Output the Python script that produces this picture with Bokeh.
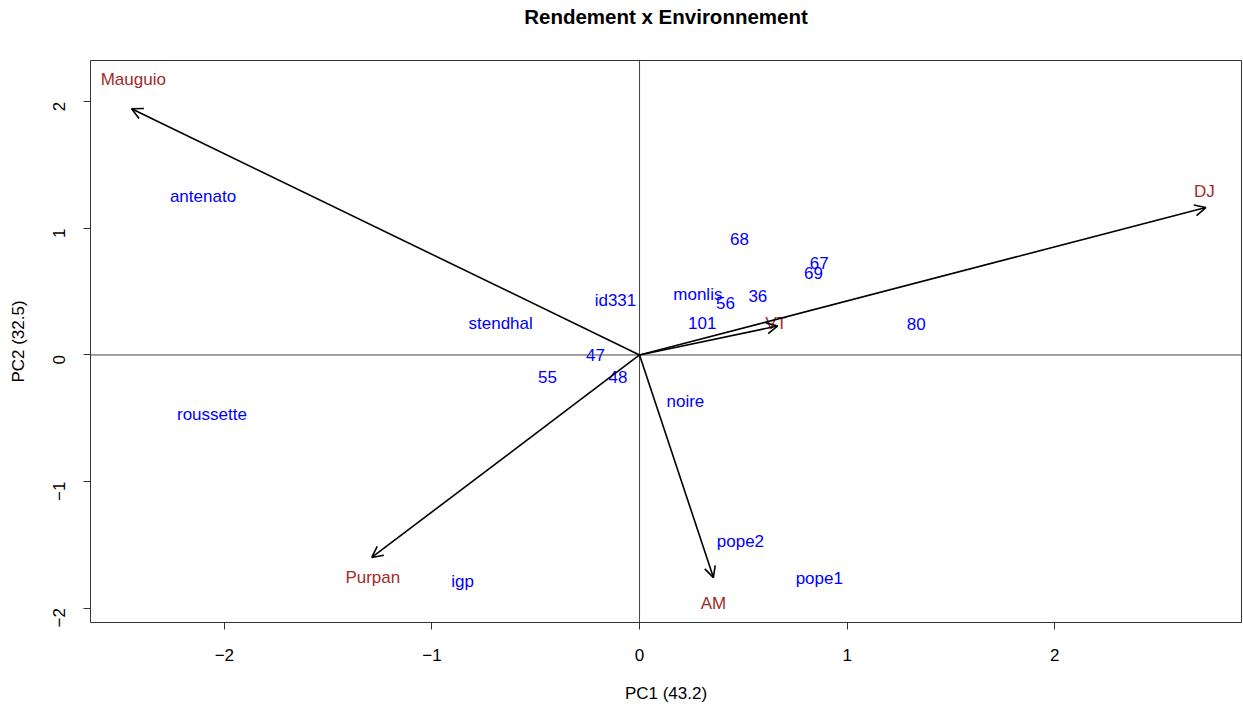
from bokeh.plotting import figure
from bokeh.models import Arrow, OpenHead, Span, ColumnDataSource, FixedTicker, Title
from bokeh.core.properties import value
from bokeh.embed import file_html
from bokeh.resources import INLINE
import math

# Genotypes (blue labels)
geno_names = ["antenato", "stendhal", "roussette", "id331", "47", "55", "48", "igp",
              "noire", "pope2", "pope1", "monlis", "101", "56", "36", "68", "67", "69", "80"]
geno_pc1 = [-2.103, -0.669, -2.060, -0.116, -0.212, -0.443, -0.104, -0.852,
            0.221, 0.486, 0.866, 0.281, 0.302, 0.414, 0.570, 0.481, 0.866, 0.838, 1.333]
geno_pc2 = [1.254, 0.245, -0.473, 0.428, 0.000, -0.174, -0.176, -1.790,
            -0.368, -1.475, -1.767, 0.481, 0.250, 0.408, 0.465, 0.913, 0.723, 0.645, 0.245]

# Environments (arrows + brown labels)
env_names = ["Mauguio", "DJ", "VT", "AM", "Purpan"]
env_pc1 = [-2.447, 2.728, 0.666, 0.356, -1.290]
env_pc2 = [1.946, 1.165, 0.229, -1.759, -1.600]
env_label_pc1 = [-2.439, 2.721, 0.658, 0.356, -1.285]
env_label_pc2 = [2.176, 1.289, 0.250, -1.965, -1.760]

x_ticks = [-2, -1, 0, 1, 2]
y_ticks = [-2, -1, 0, 1, 2]

FONT = "Liberation Sans"

W, H = 1242, 705
ML, MR, MT, MB = 90, 1, 60, 60

p = figure(width=W, height=H, output_backend="svg", toolbar_location=None,
           x_range=(-2.645, 2.90), y_range=(-2.114, 2.327),
           min_border_left=ML, min_border_right=MR, min_border_top=MT, min_border_bottom=MB)

# main title (outermost) and an invisible spacer title next to the frame
p.title.text = "Rendement x Environnement"
p.title.align = "center"
p.title.vertical_align = "middle"
p.title.text_font = FONT
p.title.text_font_size = "20.5px"
p.title.text_font_style = "bold"
p.title.text_color = "black"
p.title.standoff = 0
p.add_layout(Title(text=" ", text_font_size="1px", standoff=29), "above")

p.grid.visible = False
p.outline_line_color = "#333333"
p.outline_line_width = 1
p.background_fill_color = "white"
p.border_fill_color = "white"

for ax in (p.xaxis[0], p.yaxis[0]):
    ax.bounds = (-2, 2)
    ax.axis_line_color = "#333333"
    ax.major_tick_line_color = "#333333"
    ax.major_tick_in = 0
    ax.major_tick_out = 7
    ax.minor_tick_line_color = None
    ax.major_label_text_font = FONT
    ax.major_label_text_font_size = "17px"
    ax.major_label_text_color = "black"
    ax.axis_label_text_font = FONT
    ax.axis_label_text_font_size = "17px"
    ax.axis_label_text_font_style = "normal"
    ax.axis_label_text_color = "black"

p.xaxis[0].ticker = FixedTicker(ticks=x_ticks)
p.yaxis[0].ticker = FixedTicker(ticks=y_ticks)
p.xaxis[0].axis_label = "PC1 (43.2)"
p.yaxis[0].axis_label = "PC2 (32.5)"
p.xaxis[0].major_label_standoff = 19
p.xaxis[0].axis_label_standoff = 20
p.yaxis[0].major_label_orientation = math.pi / 2
p.yaxis[0].major_label_standoff = 24
p.yaxis[0].axis_label_standoff = 17

p.add_layout(Span(location=0, dimension="width", line_color="#444444", line_width=1))
p.add_layout(Span(location=0, dimension="height", line_color="#444444", line_width=1))

for i in range(len(env_names)):
    p.add_layout(Arrow(end=OpenHead(size=11, line_width=1.6, line_color="black"),
                       x_start=0, y_start=0, x_end=env_pc1[i], y_end=env_pc2[i],
                       line_width=1.6, line_color="black"))

gsrc = ColumnDataSource(dict(x=geno_pc1, y=geno_pc2, t=geno_names))
p.text(x="x", y="y", text="t", source=gsrc, text_align="center", text_baseline="middle",
       text_color="#0000FF", text_font=value(FONT), text_font_size="17px")

esrc = ColumnDataSource(dict(x=env_label_pc1, y=env_label_pc2, t=env_names))
p.text(x="x", y="y", text="t", source=esrc, text_align="center", text_baseline="middle",
       text_color="#A52A2A", text_font=value(FONT), text_font_size="17px")

open("out.html", "w").write(file_html(p, INLINE))
